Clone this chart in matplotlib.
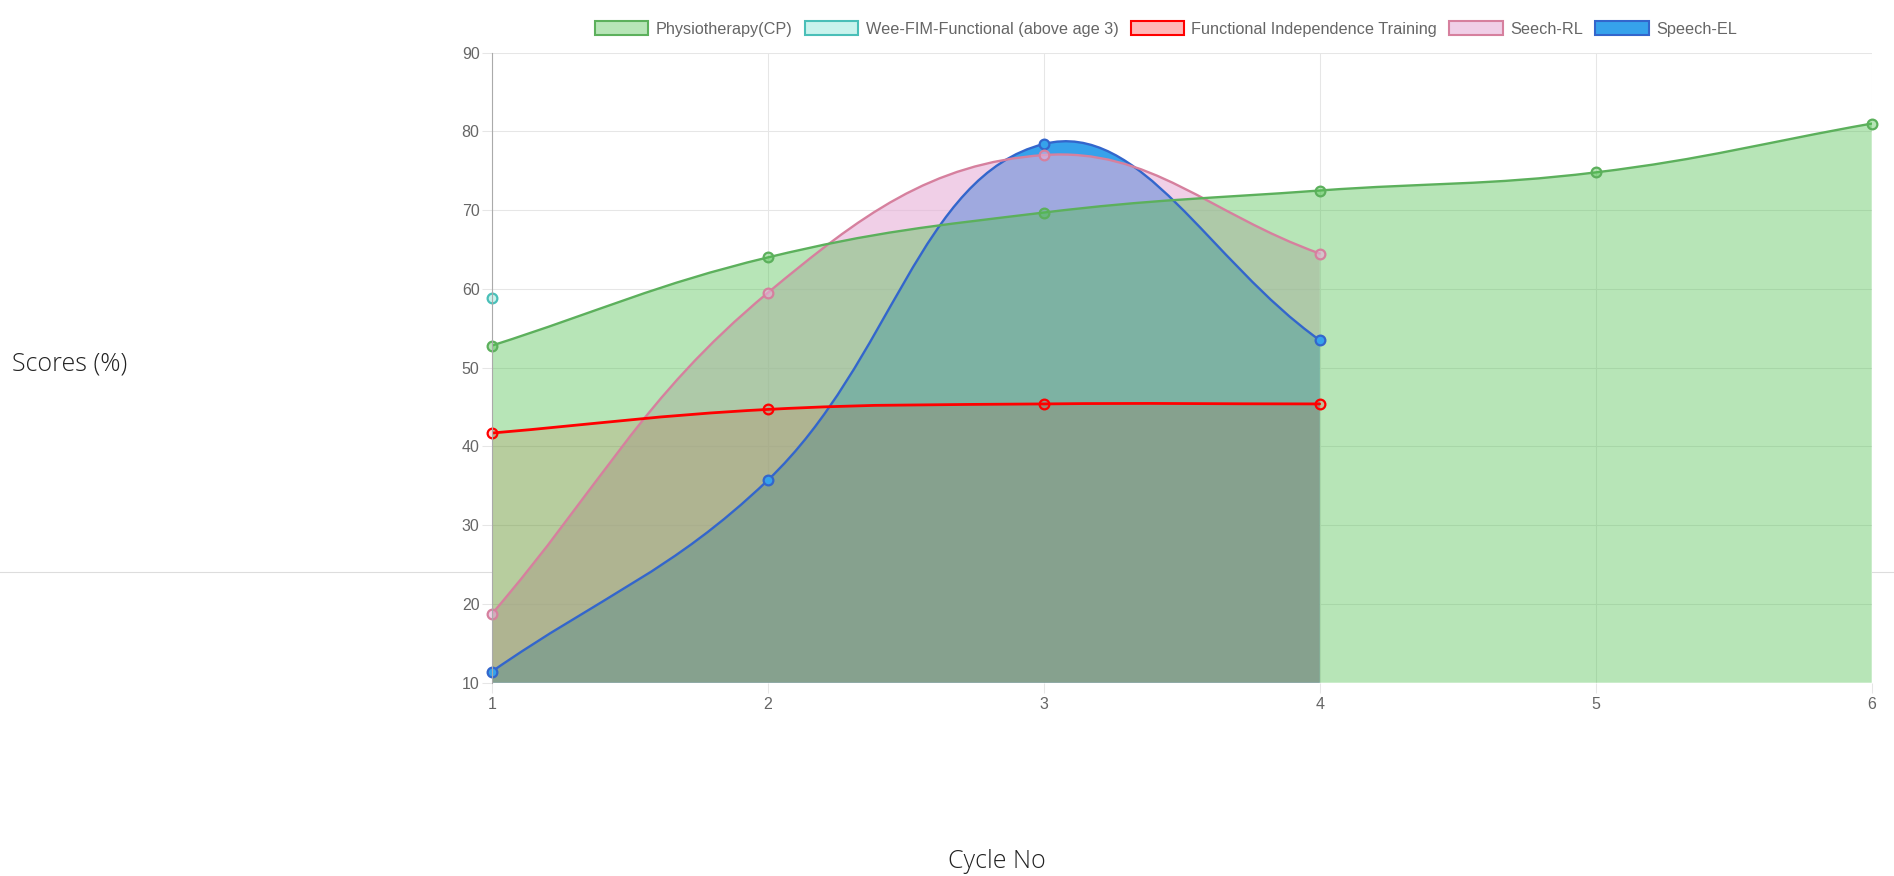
import numpy as np
import matplotlib
matplotlib.use("Agg")
import matplotlib.pyplot as plt
from matplotlib.path import Path
from matplotlib.patches import PathPatch, Patch
from matplotlib.lines import Line2D

# data
cycles = [1, 2, 3, 4, 5, 6]
labels = ["Physiotherapy(CP)", "Wee-FIM-Functional (above age 3)",
          "Functional Independence Training", "Seech-RL", "Speech-EL"]
physio = [52.8, 64.0, 69.7, 72.5, 74.8, 81.0]
wee_fim = [58.8]
fit = [41.7, 44.7, 45.4, 45.4]
seech_rl = [18.7, 59.5, 77.0, 64.5]
speech_el = [11.4, 35.7, 78.4, 53.5]
series = [physio, wee_fim, fit, seech_rl, speech_el]

line_cols = [(0.36, 0.69, 0.36), (0.29, 0.75, 0.72), (1.0, 0.0, 0.0),
             (0.84, 0.50, 0.62), (0.20, 0.40, 0.80)]
fill_cols = [(75/255, 192/255, 75/255, 0.40), (120/255, 225/255, 210/255, 0.40),
             (1.0, 0.0, 0.0, 0.16), (230/255, 175/255, 215/255, 0.60),
             (54/255, 162/255, 235/255, 1.0)]
legend_fills = [(75/255, 192/255, 75/255, 0.40), (120/255, 225/255, 210/255, 0.40),
                (1.0, 0.0, 0.0, 0.28), (230/255, 175/255, 215/255, 0.60),
                (54/255, 162/255, 235/255, 1.0)]

W, H = 1894, 876
fig = plt.figure(figsize=(W/100, H/100), dpi=100)
plt.rcParams['font.family'] = ['Liberation Sans', 'DejaVu Sans']

# stray page line behind the chart
fig.add_artist(Line2D([0, 1], [1 - 572/H, 1 - 572/H], color='#dddddd', lw=0.8, zorder=0))

left, right, top, bottom = 491.7, 1871.7, 52.7, 682.7
ax = fig.add_axes([left/W, (H-bottom)/H, (right-left)/W, (bottom-top)/H])
ax.set_xlim(1, 6)
ax.set_ylim(10, 90)
ax.set_xticks(cycles)
ax.set_yticks(range(10, 91, 10))
ax.set_axisbelow(True)
ax.grid(True, color='#e6e6e6', lw=0.75)
for s in ax.spines.values():
    s.set_visible(False)
ax.spines['left'].set_visible(True)
ax.spines['left'].set_color('#aaaaaa')
ax.spines['left'].set_linewidth(0.8)
ax.tick_params(length=7.2, width=0.75, color='#e6e6e6', labelcolor='#666666', labelsize=11.5)
ax.tick_params(axis='y', pad=1.5)
ax.tick_params(axis='x', pad=3)


def spline(xs, ys, t=0.4):
    # Chart.js style bezier through the points, built in pixel space
    pts = ax.transData.transform(np.column_stack([xs, ys]))
    lo = ax.transData.transform((1, 10))
    hi = ax.transData.transform((6, 90))
    n = len(pts)
    cps = []
    for i in range(n):
        cur = pts[i]
        prev = pts[max(i-1, 0)]
        nxt = pts[min(i+1, n-1)]
        d01 = np.hypot(*(cur - prev))
        d12 = np.hypot(*(nxt - cur))
        tot = d01 + d12
        s01 = d01/tot if tot else 0
        s12 = d12/tot if tot else 0
        cp_p = cur - t*s01*(nxt - prev)
        cp_n = cur + t*s12*(nxt - prev)
        cp_p = np.clip(cp_p, lo, hi)
        cp_n = np.clip(cp_n, lo, hi)
        cps.append((cp_p, cp_n))
    verts = [pts[0]]
    codes = [Path.MOVETO]
    for i in range(n-1):
        verts += [cps[i][1], cps[i+1][0], pts[i+1]]
        codes += [Path.CURVE4]*3
    return ax.transData.inverted().transform(np.array(verts)), codes


# fills first (last dataset at the bottom), then lines and points
for k in range(len(series)-1, -1, -1):
    ys = series[k]
    xs = cycles[:len(ys)]
    if len(ys) < 2:
        continue
    v, c = spline(xs, ys)
    v = np.vstack([v, [[xs[-1], 10], [xs[0], 10], [xs[0], 10]]])
    c = c + [Path.LINETO, Path.LINETO, Path.CLOSEPOLY]
    ax.add_patch(PathPatch(Path(v, c), facecolor=fill_cols[k], edgecolor='none', zorder=1 + 0.1*(4-k)))

for k in range(len(series)-1, -1, -1):
    ys = series[k]
    xs = cycles[:len(ys)]
    z = 2 + 0.1*(4-k)
    if len(ys) > 1:
        v, c = spline(xs, ys)
        ax.add_patch(PathPatch(Path(v, c), facecolor='none', edgecolor=line_cols[k],
                               lw=2.0 if k == 2 else 1.7, zorder=z, capstyle='round'))
    ax.plot(xs, ys, 'o', ms=7, mfc=fill_cols[k], mec=line_cols[k], mew=1.6,
            zorder=z + 0.05, clip_on=False)

handles = [Patch(facecolor=legend_fills[k], edgecolor=line_cols[k], lw=1.5) for k in range(5)]
fig.legend(handles, labels, loc='center', bbox_to_anchor=(1166/W, 1 - 29/H), ncol=5,
           frameon=False, fontsize=11.7, labelcolor='#666666', handlelength=3.3,
           handleheight=0.95, handletextpad=0.45, columnspacing=0.75, borderpad=0)

fig.text(12/W, 1 - 364/H, "Scores (%)", fontsize=18, color='#222222', va='center', ha='left',
         family=['Open Sans', 'DejaVu Sans'], fontweight='light')
fig.text(997/W, 1 - 862/H, "Cycle No", fontsize=18, color='#222222', va='center', ha='center',
         family=['Open Sans', 'DejaVu Sans'], fontweight='light')

fig.savefig('out.png', dpi=100)
